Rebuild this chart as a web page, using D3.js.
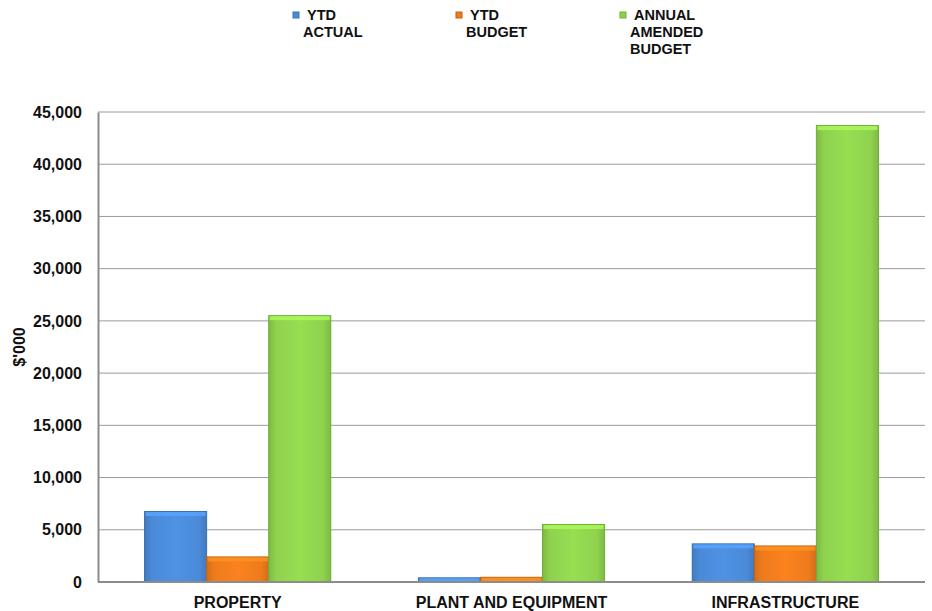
<!DOCTYPE html>
<html>
<head>
<meta charset="utf-8">
<script src="https://cdnjs.cloudflare.com/ajax/libs/d3/7.8.5/d3.min.js"></script>
<style>
  body { margin: 0; background: #fff; }
  svg text { font-family: "Liberation Sans", Arial, sans-serif; font-weight: bold; fill: #111; }
</style>
</head>
<body>
<div id="chart"></div>
<script>
// categories and series
var categories = ["PROPERTY", "PLANT AND EQUIPMENT", "INFRASTRUCTURE"];
var seriesNames = [["YTD", "ACTUAL"], ["YTD", "BUDGET"], ["ANNUAL", "AMENDED", "BUDGET"]];
var ytdActual = [6750, 400, 3650];
var ytdBudget = [2400, 450, 3450];
var annualBudget = [25500, 5500, 43700];
var yTicks = [0, 5000, 10000, 15000, 20000, 25000, 30000, 35000, 40000, 45000];

var colors = ["#4a8ad8", "#ee7b1c", "#8fd24e"];
var edges = ["#3a6fb0", "#c2610f", "#6fae36"];

var width = 932, height = 611;
var margin = {top: 112, right: 7, bottom: 29, left: 98};

var svg = d3.select("#chart").append("svg")
    .attr("width", width)
    .attr("height", height);

// gradients for the bevelled look
var defs = svg.append("defs");
colors.forEach(function(c, i) {
    var g = defs.append("linearGradient").attr("id", "grad" + i)
        .attr("x1", "0").attr("x2", "1").attr("y1", "0").attr("y2", "0");
    g.append("stop").attr("offset", "0%").attr("stop-color", d3.color(c).darker(0.35));
    g.append("stop").attr("offset", "12%").attr("stop-color", c);
    g.append("stop").attr("offset", "50%").attr("stop-color", d3.color(c).brighter(0.15));
    g.append("stop").attr("offset", "88%").attr("stop-color", c);
    g.append("stop").attr("offset", "100%").attr("stop-color", d3.color(c).darker(0.35));
});

var x = d3.scaleBand()
    .domain(categories)
    .range([margin.left, width - margin.right])
    .paddingInner(0.32)
    .paddingOuter(0.17);

var xs = d3.scaleBand()
    .domain([0, 1, 2])
    .range([0, x.bandwidth()]);

var y = d3.scaleLinear()
    .domain([0, 45000])
    .range([height - margin.bottom, margin.top]);

// gridlines
svg.append("g")
    .selectAll("line")
    .data(yTicks.slice(1))
    .enter().append("line")
    .attr("x1", margin.left)
    .attr("x2", width - margin.right)
    .attr("y1", function(d) { return y(d); })
    .attr("y2", function(d) { return y(d); })
    .attr("stroke", "#9a9a9a")
    .attr("stroke-width", 1);

// y axis
var yAxis = svg.append("g")
    .attr("transform", "translate(" + margin.left + ",0)")
    .call(d3.axisLeft(y).tickValues(yTicks).tickSize(0).tickPadding(16)
        .tickFormat(d3.format(",")));
yAxis.select(".domain").attr("stroke", "#8c8c8c").attr("stroke-width", 2);
yAxis.selectAll("text").attr("font-size", 16).style("font-weight", "bold")
    .style("font-family", "Liberation Sans, Arial, sans-serif").attr("fill", "#111");

// bars
var seriesData = [ytdActual, ytdBudget, annualBudget];
seriesData.forEach(function(vals, si) {
    svg.append("g").selectAll("rect")
        .data(vals)
        .enter().append("rect")
        .attr("x", function(d, i) { return x(categories[i]) + xs(si); })
        .attr("y", function(d) { return y(d); })
        .attr("width", xs.bandwidth())
        .attr("height", function(d) { return y(0) - y(d); })
        .attr("fill", "url(#grad" + si + ")")
        .attr("stroke", edges[si])
        .attr("stroke-width", 1);
    // top bevel highlight
    svg.append("g").selectAll("rect")
        .data(vals)
        .enter().append("rect")
        .attr("x", function(d, i) { return x(categories[i]) + xs(si) + 1; })
        .attr("y", function(d) { return y(d) + 0.5; })
        .attr("width", xs.bandwidth() - 2)
        .attr("height", function(d) { return Math.min(4, y(0) - y(d) - 1); })
        .attr("fill", d3.color(colors[si]).brighter(0.5))
        .attr("opacity", 0.8);
});

// x axis
var xAxis = svg.append("g")
    .attr("transform", "translate(0," + y(0) + ")")
    .call(d3.axisBottom(x).tickSize(0).tickPadding(15));
xAxis.select(".domain").attr("stroke", "#8c8c8c").attr("stroke-width", 2)
    .attr("d", "M" + margin.left + ",0H" + (width - margin.right));
xAxis.selectAll("text").attr("font-size", 16).style("font-weight", "bold")
    .style("font-family", "Liberation Sans, Arial, sans-serif").attr("fill", "#111");

// y title
svg.append("text")
    .attr("transform", "translate(25,347) rotate(-90)")
    .attr("text-anchor", "middle")
    .attr("font-size", 16)
    .text("$'000");

// legend
var legendX = [293, 456, 620];
seriesNames.forEach(function(lines, i) {
    var g = svg.append("g").attr("transform", "translate(" + legendX[i] + ",0)");
    g.append("rect")
        .attr("x", 0).attr("y", 12)
        .attr("width", 6).attr("height", 6)
        .attr("fill", colors[i])
        .attr("stroke", edges[i]);
    lines.forEach(function(t, j) {
        g.append("text")
            .attr("x", j === 0 ? 14 : 10)
            .attr("y", 20 + j * 17)
            .attr("font-size", 14.5)
            .text(t);
    });
});
</script>
</body>
</html>
